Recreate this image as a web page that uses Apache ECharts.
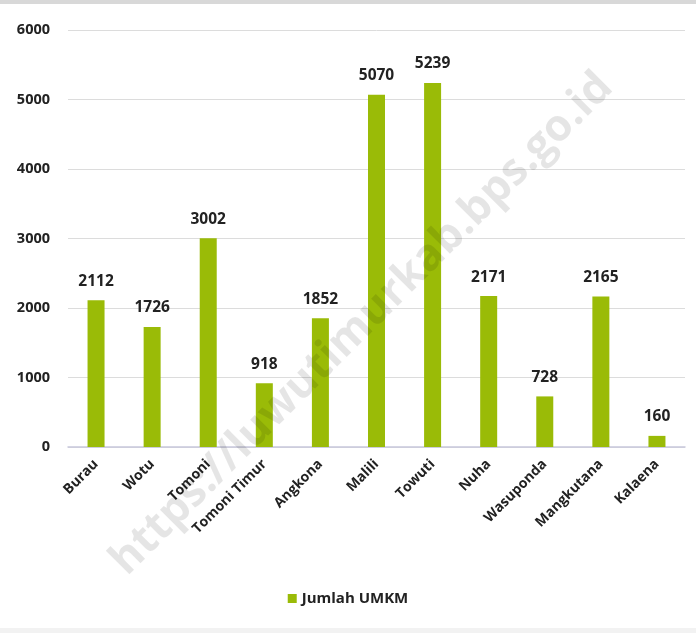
<!DOCTYPE html>
<html><head><meta charset="utf-8">
<script src="https://cdn.jsdelivr.net/npm/echarts@6/dist/echarts.min.js"></script>
<style>html,body{margin:0;padding:0;background:#fff}#c{width:696px;height:633px}</style>
</head><body><div id="c"></div>
<script>
const categories = ['Burau','Wotu','Tomoni','Tomoni Timur','Angkona','Malili','Towuti','Nuha','Wasuponda','Mangkutana','Kalaena'];
const values = [2112,1726,3002,918,1852,5070,5239,2171,728,2165,160];
const seriesName = 'Jumlah UMKM';
const yTicks = [0,1000,2000,3000,4000,5000,6000];
const watermark = 'https://luwutimurkab.bps.go.id';

const font = '"Open Sans", "Noto Sans", sans-serif';
const chart = echarts.init(document.getElementById('c'), null, {renderer:'canvas'});
chart.setOption({
  backgroundColor:'#fff',
  animation:false,
  grid:{left:68, right:11, top:30, bottom:186, containLabel:false},
  legend:{bottom:22, left:'center', itemWidth:9, itemHeight:9, icon:'rect', itemGap:5,
    textStyle:{fontFamily:font, fontWeight:'bold', fontSize:15, color:'#222'}, data:[seriesName]},
  xAxis:{type:'category', data:categories,
    axisLine:{lineStyle:{color:'#c8c8dc', width:1.5}}, axisTick:{show:false},
    axisLabel:{rotate:45, interval:0, fontFamily:font, fontWeight:'bold', fontSize:14, color:'#222', margin:15}},
  yAxis:{type:'value', min:yTicks[0], max:yTicks[yTicks.length-1], interval:1000,
    axisLine:{show:false}, axisTick:{show:false},
    splitLine:{lineStyle:{color:'#dcdcdc'}},
    axisLabel:{formatter:v=>String(v), fontFamily:font, fontWeight:'bold', fontSize:14.5, color:'#222', margin:18}},
  series:[{name:seriesName, type:'bar', data:values, barWidth:17,
    itemStyle:{color:'#9abb07'},
    label:{show:true, position:'top', distance:11, fontFamily:font, fontWeight:'bold', fontSize:15.5, color:'#222'}}],
  graphic:[
    {type:'rect', left:0, top:0, shape:{width:696, height:4}, style:{fill:'#d8d8d8'}, silent:true},
    {type:'rect', left:0, bottom:0, shape:{width:696, height:5}, style:{fill:'#f2f2f2'}, silent:true},
    {type:'text', x:362, y:324, rotation:Math.PI/4, z:100,
     style:{text:watermark, fontSize:44, fontWeight:'bold', fontFamily:font, fill:'rgba(0,0,0,0.10)', align:'center', verticalAlign:'middle'}, silent:true}
  ]
});
</script></body></html>
